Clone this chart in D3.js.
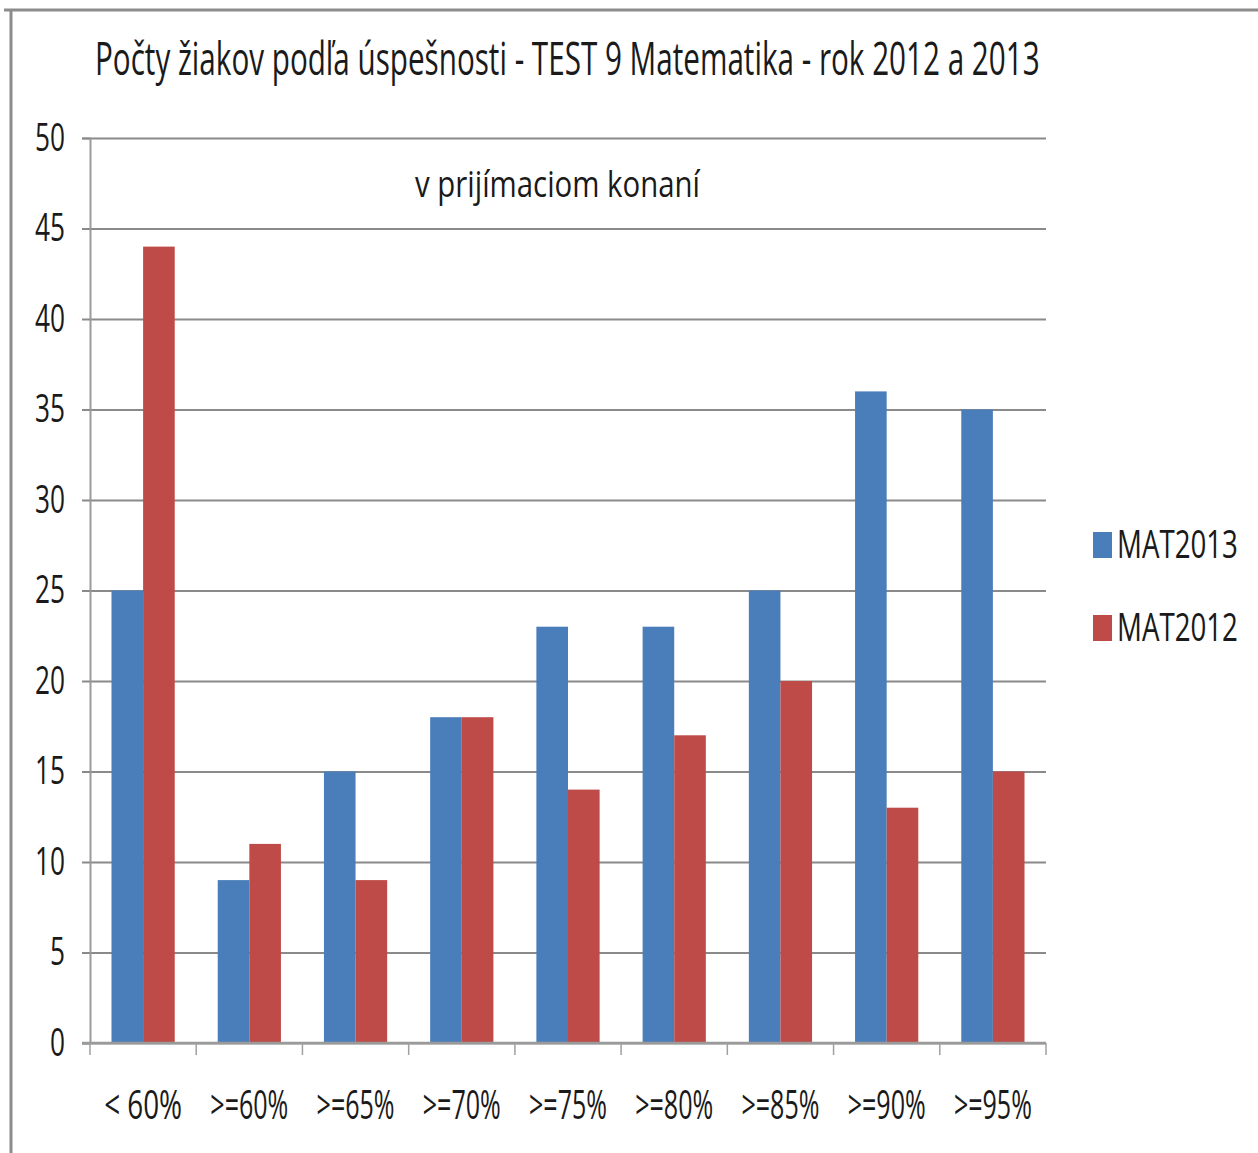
<!DOCTYPE html>
<html>
<head>
<meta charset="utf-8">
<script src="https://cdn.jsdelivr.net/npm/d3@7.9.0/dist/d3.min.js"></script>
<style>
  body { margin: 0; background: #fff; }
  svg { display: block; }
  text { font-family: "Open Sans", "Liberation Sans", sans-serif; fill: #1a1a1a; }
</style>
</head>
<body>
<svg width="1258" height="1153"></svg>
<script>
// chart data
const categories = ['< 60%', '>=60%', '>=65%', '>=70%', '>=75%', '>=80%', '>=85%', '>=90%', '>=95%'];
const seriesNames = ['MAT2013', 'MAT2012'];
const mat2013 = [25, 9, 15, 18, 23, 23, 25, 36, 35];
const mat2012 = [44, 11, 9, 18, 14, 17, 20, 13, 15];
const yTicks = [0, 5, 10, 15, 20, 25, 30, 35, 40, 45, 50];

const colors = d3.scaleOrdinal().domain(seriesNames).range(['#4a7ebb', '#be4b48']);

const svg = d3.select('svg');

// squeeze a text horizontally around its anchor so it takes the given width
function fitWidth(sel, width) {
  sel.each(function (d) {
    const w = this.getComputedTextLength();
    const target = typeof width === 'function' ? width(d) : width;
    const s = target / w;
    const x = +this.getAttribute('x') || 0;
    d3.select(this).attr('transform', `translate(${x * (1 - s)},0) scale(${s},1)`);
  });
}

// outer frame (top and left edges only, like the screenshot)
svg.append('line').attr('x1', 4).attr('x2', 1258).attr('y1', 10).attr('y2', 10)
  .attr('stroke', '#8c8c8c').attr('stroke-width', 3);
svg.append('line').attr('x1', 11).attr('x2', 11).attr('y1', 10).attr('y2', 1153)
  .attr('stroke', '#8c8c8c').attr('stroke-width', 3);

const plot = { left: 90, right: 1046, top: 138, bottom: 1043 };

const x0 = d3.scaleBand().domain(categories).range([plot.left, plot.right]).padding(0);
const x1 = d3.scaleBand().domain(seriesNames).range([0, x0.bandwidth()])
  .paddingInner(0).paddingOuter(0.68);
const y = d3.scaleLinear().domain([0, 50]).range([plot.bottom, plot.top]);

// gridlines
svg.append('g')
  .attr('transform', `translate(${plot.left},0)`)
  .call(d3.axisLeft(y).tickValues(yTicks).tickSize(-(plot.right - plot.left)).tickFormat(''))
  .call(g => g.select('.domain').remove())
  .call(g => g.selectAll('line').attr('stroke', '#8a8a8a').attr('stroke-width', 2));

// y axis with labels
svg.append('g')
  .attr('transform', `translate(${plot.left},0)`)
  .call(d3.axisLeft(y).tickValues(yTicks).tickSize(8).tickPadding(17))
  .call(g => g.select('.domain').attr('stroke', '#9a9a9a').attr('stroke-width', 2))
  .call(g => g.selectAll('line').attr('stroke', '#8a8a8a').attr('stroke-width', 2))
  .call(g => g.selectAll('text').attr('font-size', 38).call(fitWidth, d => String(d).length * 15));

// bars
const groups = svg.append('g').selectAll('g')
  .data(categories)
  .join('g')
  .attr('transform', c => `translate(${x0(c)},0)`);

groups.selectAll('rect')
  .data((c, i) => [
    { key: 'MAT2013', value: mat2013[i] },
    { key: 'MAT2012', value: mat2012[i] }
  ])
  .join('rect')
  .attr('x', d => x1(d.key))
  .attr('width', x1.bandwidth())
  .attr('y', d => y(d.value))
  .attr('height', d => y(0) - y(d.value))
  .attr('fill', d => colors(d.key));

// x axis: line, boundary ticks, labels
svg.append('line')
  .attr('x1', plot.left - 8).attr('x2', plot.right)
  .attr('y1', y(0)).attr('y2', y(0))
  .attr('stroke', '#9a9a9a').attr('stroke-width', 2.5);

const bounds = categories.map(c => x0(c)).concat([x0.range()[1]]);
svg.append('g').selectAll('line')
  .data(bounds)
  .join('line')
  .attr('x1', d => d).attr('x2', d => d)
  .attr('y1', y(0)).attr('y2', y(0) + 12)
  .attr('stroke', '#a0a0a0').attr('stroke-width', 1.5);

svg.append('g')
  .attr('transform', `translate(0,${y(0)})`)
  .call(d3.axisBottom(x0).tickSize(0).tickPadding(48))
  .call(g => g.select('.domain').remove())
  .call(g => g.selectAll('text').attr('font-size', 40).call(fitWidth, 78));

// title and subtitle
svg.append('text')
  .attr('x', 95).attr('y', 75)
  .attr('font-size', 45)
  .text('Počty žiakov podľa úspešnosti - TEST 9 Matematika - rok 2012 a 2013')
  .call(fitWidth, 945);

svg.append('text')
  .attr('x', 415).attr('y', 197)
  .attr('font-size', 37)
  .text('v prijímaciom konaní')
  .call(fitWidth, 285);

// legend
const legend = svg.append('g').selectAll('g')
  .data(seriesNames)
  .join('g')
  .attr('transform', (d, i) => `translate(1093,${532 + i * 83})`);

legend.append('rect')
  .attr('width', 19).attr('height', 26)
  .attr('fill', d => colors(d));

legend.append('text')
  .attr('x', 24).attr('y', 26)
  .attr('font-size', 38)
  .text(d => d)
  .call(fitWidth, 121);
</script>
</body>
</html>
